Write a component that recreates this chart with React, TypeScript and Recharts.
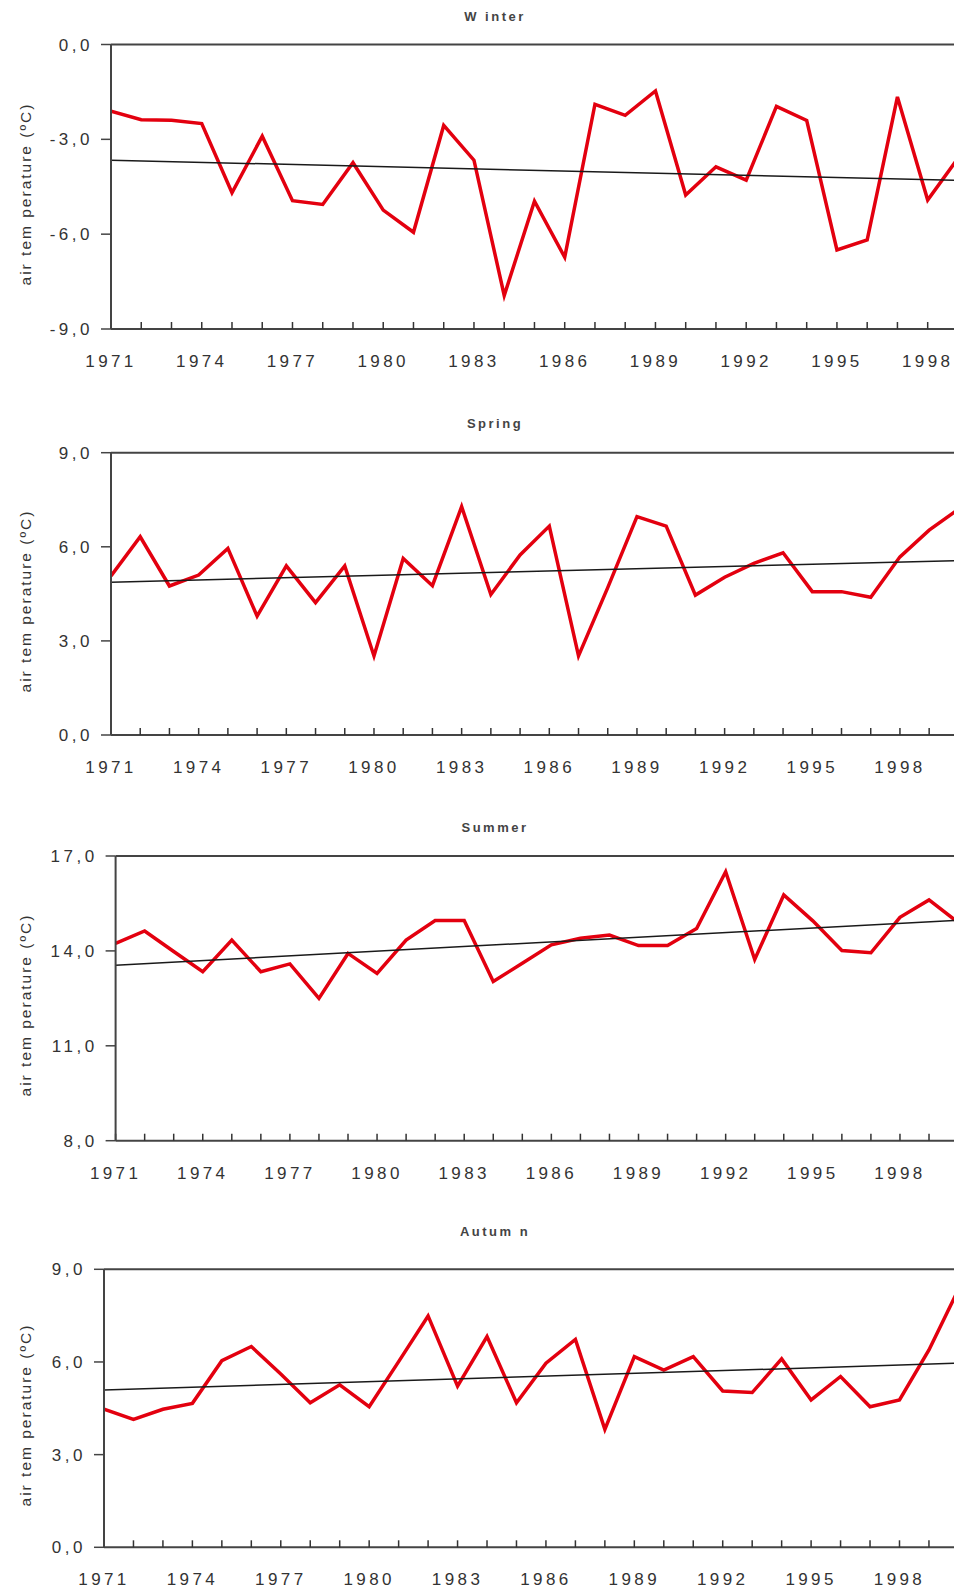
import React from "react";
import { LineChart, Line, XAxis, YAxis, ReferenceLine } from "recharts";

// years on the x axis
const years = [
  1971, 1972, 1973, 1974, 1975, 1976, 1977, 1978, 1979, 1980,
  1981, 1982, 1983, 1984, 1985, 1986, 1987, 1988, 1989, 1990,
  1991, 1992, 1993, 1994, 1995, 1996, 1997, 1998, 1999, 2000,
];
const labelYears = [1971, 1974, 1977, 1980, 1983, 1986, 1989, 1992, 1995, 1998];

// seasonal mean air temperature (ºC)
const winterTemp = [
  -2.11, -2.38, -2.4, -2.5, -4.69, -2.9, -4.94, -5.06, -3.74, -5.24,
  -5.94, -2.56, -3.66, -7.94, -4.96, -6.73, -1.89, -2.24, -1.47, -4.76,
  -3.87, -4.29, -1.96, -2.4, -6.5, -6.18, -1.66, -4.92, -3.6,
];
const springTemp = [
  5.07, 6.32, 4.75, 5.1, 5.95, 3.79, 5.39, 4.22, 5.39, 2.52,
  5.63, 4.76, 7.28, 4.48, 5.74, 6.66, 2.52, 4.7, 6.96, 6.66,
  4.46, 5.03, 5.47, 5.81, 4.57, 4.57, 4.39, 5.68, 6.53, 7.2,
];
const summerTemp = [
  14.24, 14.63, 13.98, 13.34, 14.34, 13.34, 13.59, 12.5, 13.92, 13.29,
  14.34, 14.96, 14.96, 13.03, 13.61, 14.19, 14.4, 14.5, 14.17, 14.17,
  14.71, 16.5, 13.73, 15.77, 14.95, 14.01, 13.94, 15.06, 15.61, 14.9,
];
const autumnTemp = [
  4.47, 4.14, 4.47, 4.66, 6.04, 6.5, 5.61, 4.68, 5.26, 4.55,
  6.01, 7.49, 5.22, 6.82, 4.68, 5.96, 6.73, 3.82, 6.17, 5.74,
  6.17, 5.06, 5.01, 6.1, 4.77, 5.53, 4.55, 4.77, 6.39, 8.35,
];

// linear trend end points (first year, last year)
const winterTrend = [-3.66, -4.3];
const springTrend = [4.87, 5.56];
const summerTrend = [13.55, 14.97];
const autumnTrend = [5.09, 5.96];

const winterTicks = [-9, -6, -3, 0];
const springTicks = [0, 3, 6, 9];
const summerTicks = [8, 11, 14, 17];
const autumnTicks = [0, 3, 6, 9];

const titles = ["W inter", "Spring", "Summer", "Autum n"];
const yTitle = "air tem perature (ºC)";

const FONT = "'Liberation Sans', Arial, sans-serif";
const INK = "#333";

const fmt = (v: number) => v.toFixed(1).replace(".", ",");

function XTick(props: any) {
  const { x, y, payload } = props;
  if (!labelYears.includes(payload.value)) return null;
  return (
    <text
      x={x}
      y={y}
      dy="0.71em"
      textAnchor="middle"
      fill={INK}
      fontSize={17}
      letterSpacing={3.4}
      fontFamily={FONT}
    >
      {payload.value}
    </text>
  );
}

function YTick(props: any) {
  const { x, y, payload } = props;
  return (
    <text
      x={x}
      y={y}
      dy="0.355em"
      textAnchor="end"
      fill={INK}
      fontSize={17}
      letterSpacing={3.5}
      fontFamily={FONT}
    >
      {fmt(payload.value)}
    </text>
  );
}

type PanelProps = {
  title: string;
  values: number[];
  trend: number[];
  yTicks: number[];
  xEnd: number;
  top: number;
  height: number;
  plotTop: number;
  plotBottom: number;
  plotLeft: number;
  titleY: number;
};

function Panel(p: PanelProps) {
  const data = p.values.map((v, i) => ({ year: years[i], t: v }));
  const lastYear = years[p.values.length - 1];
  const trendData = [
    { year: years[0], t: p.trend[0] },
    { year: lastYear, t: p.trend[1] },
  ];
  const xTicks = years.filter((y) => y <= p.xEnd);
  const yMin = p.yTicks[0];
  const yMax = p.yTicks[p.yTicks.length - 1];
  const centerY = (p.plotTop + p.plotBottom) / 2 + 7;

  return (
    <div style={{ position: "absolute", left: 0, top: p.top, width: 954, height: p.height }}>
      <div
        style={{
          position: "absolute",
          left: 395,
          width: 200,
          top: p.titleY - 9,
          lineHeight: "18px",
          textAlign: "center",
          fontFamily: FONT,
          fontSize: 13,
          fontWeight: "bold",
          letterSpacing: 2.5,
          color: "#444",
        }}
      >
        {p.title}
      </div>
      <div
        style={{
          position: "absolute",
          left: 26,
          top: centerY,
          transform: "translate(-50%, -50%) rotate(-90deg)",
          whiteSpace: "nowrap",
          fontFamily: FONT,
          fontSize: 15.5,
          letterSpacing: 2,
          color: INK,
        }}
      >
        {yTitle}
      </div>
      <LineChart
        width={954}
        height={p.height}
        data={data}
        margin={{ top: p.plotTop, right: 0, bottom: 0, left: 0 }}
      >
        <XAxis
          dataKey="year"
          type="number"
          domain={[1971, p.xEnd]}
          allowDataOverflow
          ticks={xTicks}
          interval={0}
          height={p.height - p.plotBottom}
          tickSize={-7}
          tickMargin={33}
          tick={<XTick />}
          axisLine={{ stroke: "#444", strokeWidth: 2 }}
          tickLine={{ stroke: "#333", strokeWidth: 1.5 }}
        />
        <YAxis
          type="number"
          domain={[yMin, yMax]}
          ticks={p.yTicks}
          interval={0}
          width={p.plotLeft}
          tickSize={10}
          tickMargin={8}
          tick={<YTick />}
          axisLine={{ stroke: "#444", strokeWidth: 2 }}
          tickLine={{ stroke: "#444", strokeWidth: 1.5 }}
        />
        <ReferenceLine y={yMax} stroke="#444" strokeWidth={2} />
        <Line
          type="linear"
          dataKey="t"
          stroke="#e3000f"
          strokeWidth={3.5}
          dot={false}
          isAnimationActive={false}
        />
        <Line
          data={trendData}
          type="linear"
          dataKey="t"
          stroke="#1a1a1a"
          strokeWidth={1.5}
          dot={false}
          isAnimationActive={false}
        />
      </LineChart>
    </div>
  );
}

export default function App() {
  return (
    <div
      style={{
        position: "absolute",
        left: 0,
        top: 0,
        width: 954,
        height: 1593,
        background: "#fff",
        overflow: "hidden",
      }}
    >
      <Panel
        title={titles[0]}
        values={winterTemp}
        trend={winterTrend}
        yTicks={winterTicks}
        xEnd={1998.87}
        top={0}
        height={390}
        plotTop={44.5}
        plotBottom={329}
        plotLeft={111}
        titleY={17}
      />
      <Panel
        title={titles[1]}
        values={springTemp}
        trend={springTrend}
        yTicks={springTicks}
        xEnd={1999.85}
        top={400}
        height={395}
        plotTop={52.7}
        plotBottom={335}
        plotLeft={111}
        titleY={24}
      />
      <Panel
        title={titles[2]}
        values={summerTemp}
        trend={summerTrend}
        yTicks={summerTicks}
        xEnd={1999.86}
        top={800}
        height={400}
        plotTop={56}
        plotBottom={340.7}
        plotLeft={115.6}
        titleY={28}
      />
      <Panel
        title={titles[3]}
        values={autumnTemp}
        trend={autumnTrend}
        yTicks={autumnTicks}
        xEnd={1999.85}
        top={1205}
        height={388}
        plotTop={64.3}
        plotBottom={342.3}
        plotLeft={104}
        titleY={27}
      />
    </div>
  );
}
